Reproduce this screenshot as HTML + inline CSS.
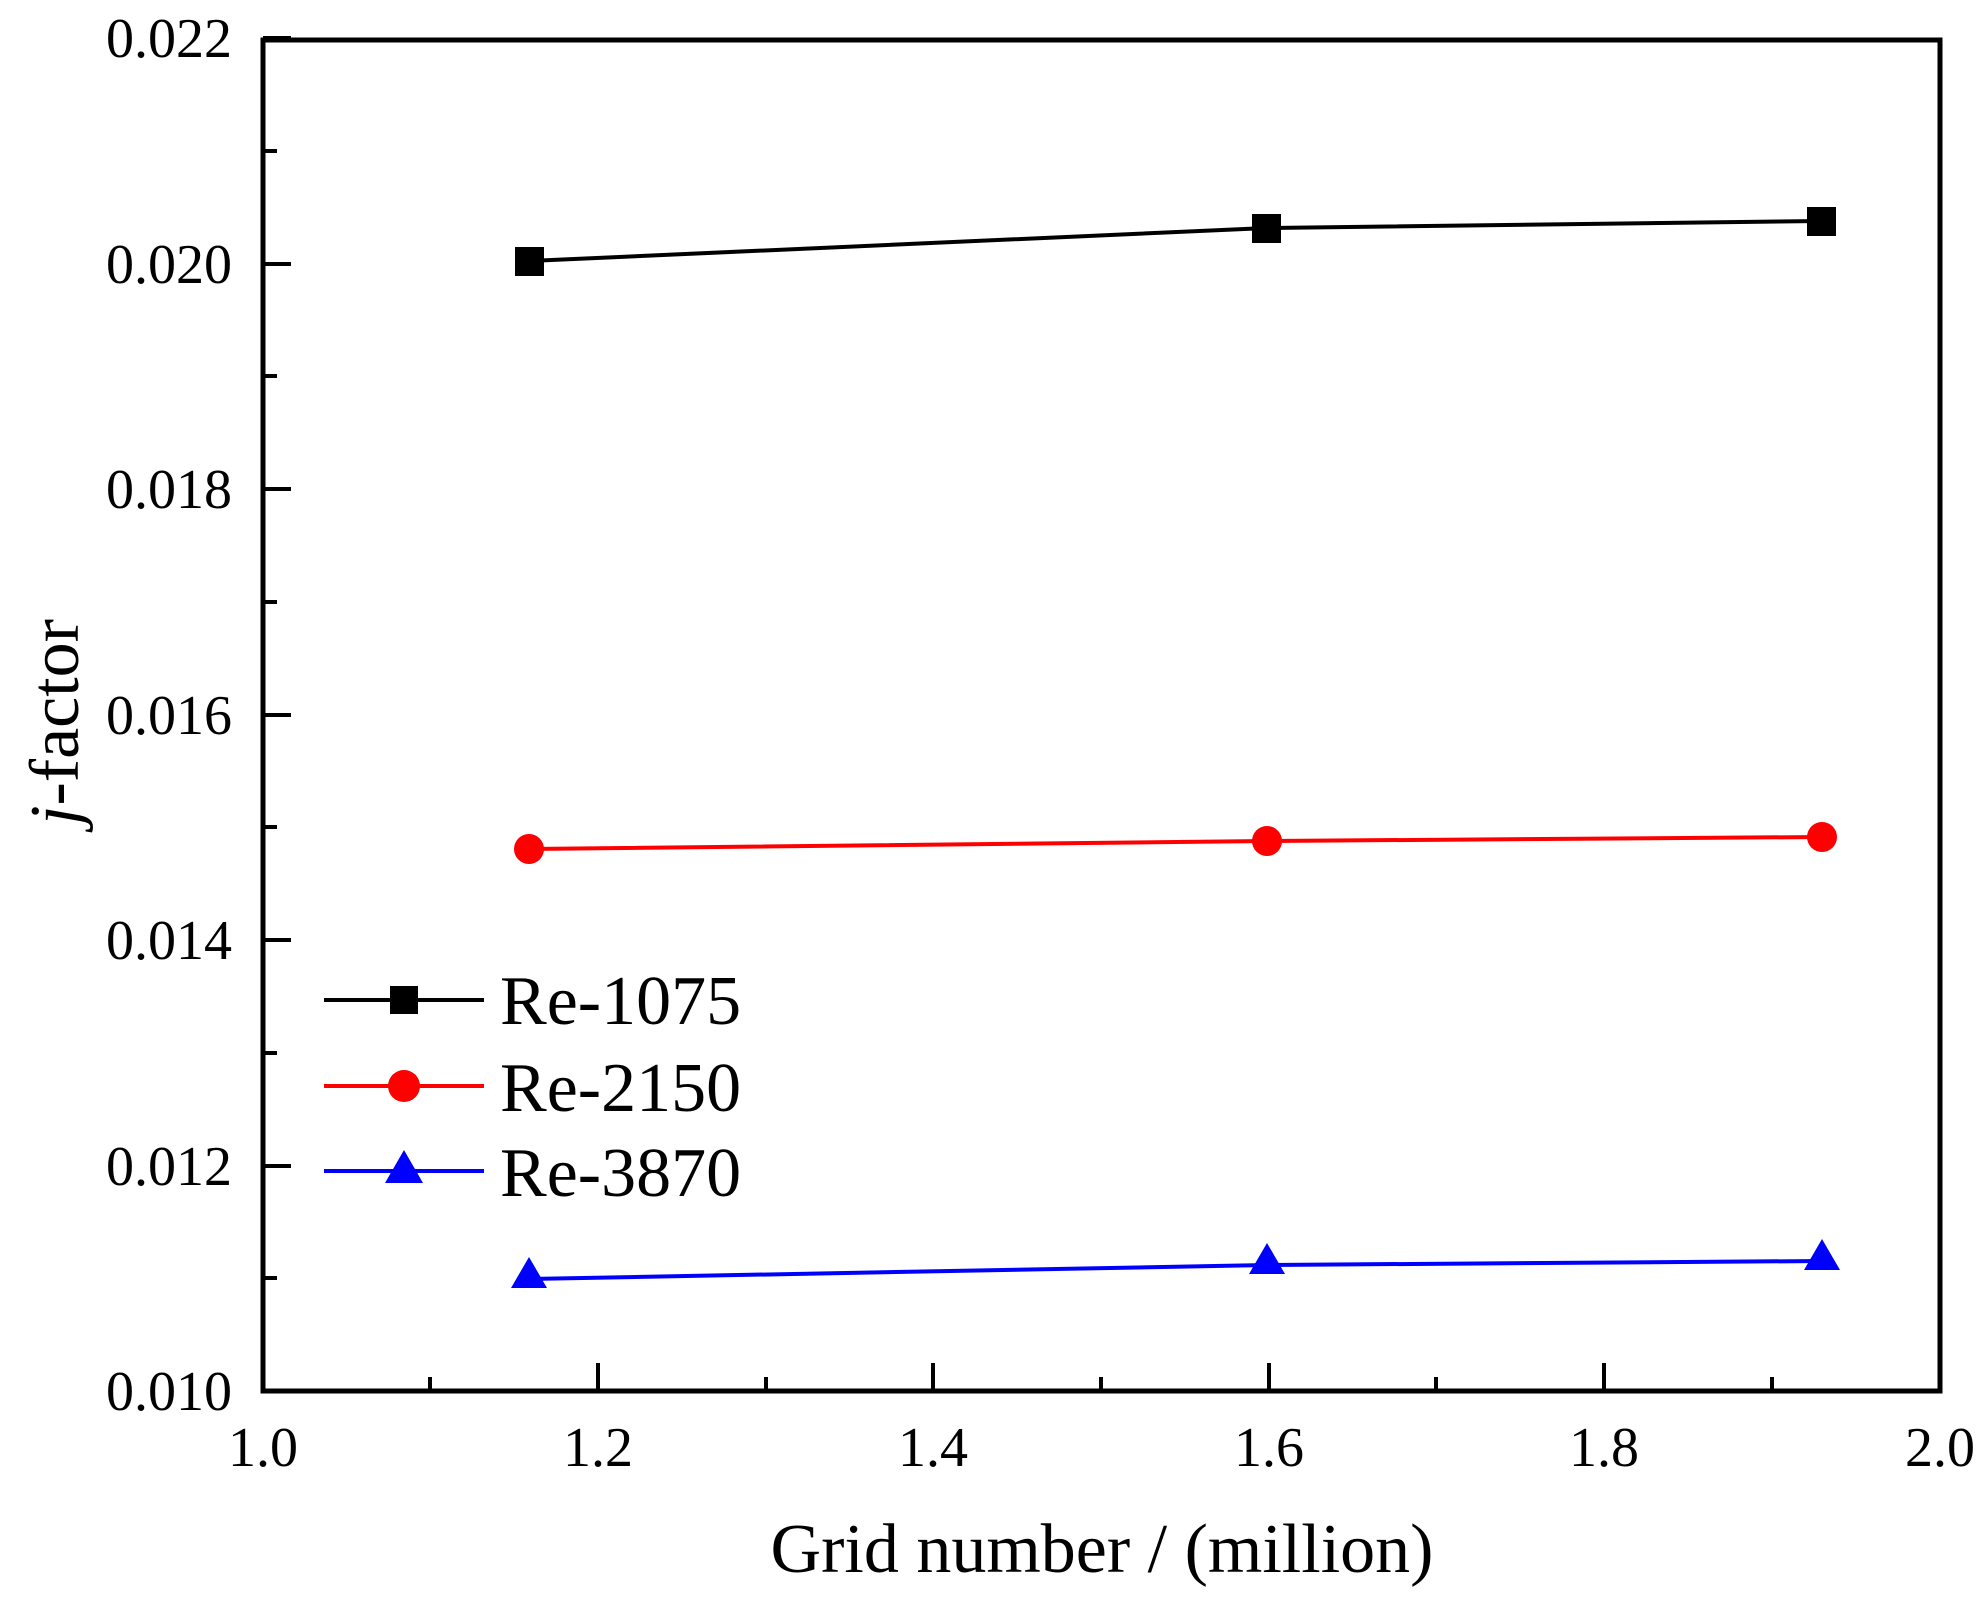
<!DOCTYPE html>
<html><head><meta charset="utf-8"><style>
html,body{margin:0;padding:0;background:#fff;}
svg{display:block;}
text{font-family:"Liberation Serif",serif;fill:#000;}
</style></head><body>
<svg width="1986" height="1603" viewBox="0 0 1986 1603" xmlns="http://www.w3.org/2000/svg">
<rect width="1986" height="1603" fill="#fff"/>
<g stroke="#000" stroke-width="4">
<line x1="263" y1="38" x2="291" y2="38"/>
<line x1="263" y1="264" x2="291" y2="264"/>
<line x1="263" y1="489" x2="291" y2="489"/>
<line x1="263" y1="715" x2="291" y2="715"/>
<line x1="263" y1="940" x2="291" y2="940"/>
<line x1="263" y1="1166" x2="291" y2="1166"/>
<line x1="263" y1="151" x2="277" y2="151"/>
<line x1="263" y1="376" x2="277" y2="376"/>
<line x1="263" y1="602" x2="277" y2="602"/>
<line x1="263" y1="827" x2="277" y2="827"/>
<line x1="263" y1="1053" x2="277" y2="1053"/>
<line x1="263" y1="1278" x2="277" y2="1278"/>
<line x1="598" y1="1391" x2="598" y2="1363"/>
<line x1="933" y1="1391" x2="933" y2="1363"/>
<line x1="1269" y1="1391" x2="1269" y2="1363"/>
<line x1="1604" y1="1391" x2="1604" y2="1363"/>
<line x1="430" y1="1391" x2="430" y2="1377"/>
<line x1="766" y1="1391" x2="766" y2="1377"/>
<line x1="1101" y1="1391" x2="1101" y2="1377"/>
<line x1="1436" y1="1391" x2="1436" y2="1377"/>
<line x1="1772" y1="1391" x2="1772" y2="1377"/>
</g>
<rect x="263" y="40" width="1677" height="1351" fill="none" stroke="#000" stroke-width="5"/>
<g font-size="56" text-anchor="end">
<text x="232" y="57">0.022</text>
<text x="232" y="283">0.020</text>
<text x="232" y="508">0.018</text>
<text x="232" y="734">0.016</text>
<text x="232" y="959">0.014</text>
<text x="232" y="1185">0.012</text>
<text x="232" y="1410">0.010</text>
</g>
<g font-size="56" text-anchor="middle">
<text x="263" y="1466">1.0</text>
<text x="598" y="1466">1.2</text>
<text x="933" y="1466">1.4</text>
<text x="1269" y="1466">1.6</text>
<text x="1604" y="1466">1.8</text>
<text x="1940" y="1466">2.0</text>
</g>
<text x="1102" y="1572" font-size="70" text-anchor="middle">Grid number / (million)</text>
<text transform="translate(78,722) rotate(-90)" font-size="70" text-anchor="middle"><tspan font-style="italic">j</tspan>-factor</text>
<polyline points="529,261 1267,228 1822,221" fill="none" stroke="#000" stroke-width="4"/>
<rect x="515" y="247" width="29" height="29" fill="#000"/>
<rect x="1252" y="214" width="29" height="29" fill="#000"/>
<rect x="1807" y="207" width="29" height="29" fill="#000"/>
<polyline points="529,849 1267,841 1822,837" fill="none" stroke="#f00" stroke-width="4"/>
<circle cx="529" cy="849" r="15" fill="#f00"/>
<circle cx="1267" cy="841" r="15" fill="#f00"/>
<circle cx="1822" cy="837" r="15" fill="#f00"/>
<polyline points="529,1279 1267,1265 1822,1261" fill="none" stroke="#00f" stroke-width="4"/>
<polygon points="529,1257 511,1288 547,1288" fill="#00f"/>
<polygon points="1267,1243 1249,1274 1285,1274" fill="#00f"/>
<polygon points="1822,1239 1804,1270 1840,1270" fill="#00f"/>
<line x1="324" y1="1000" x2="484" y2="1000" stroke="#000" stroke-width="4"/>
<rect x="390" y="986" width="28" height="28" fill="#000"/>
<line x1="324" y1="1086" x2="484" y2="1086" stroke="#f00" stroke-width="4"/>
<circle cx="404" cy="1086" r="16" fill="#f00"/>
<line x1="324" y1="1171" x2="484" y2="1171" stroke="#00f" stroke-width="4"/>
<polygon points="404,1150 385,1183 423,1183" fill="#00f"/>
<g font-size="70">
<text x="500" y="1024">Re-1075</text>
<text x="500" y="1111">Re-2150</text>
<text x="500" y="1196">Re-3870</text>
</g>
</svg>
</body></html>
